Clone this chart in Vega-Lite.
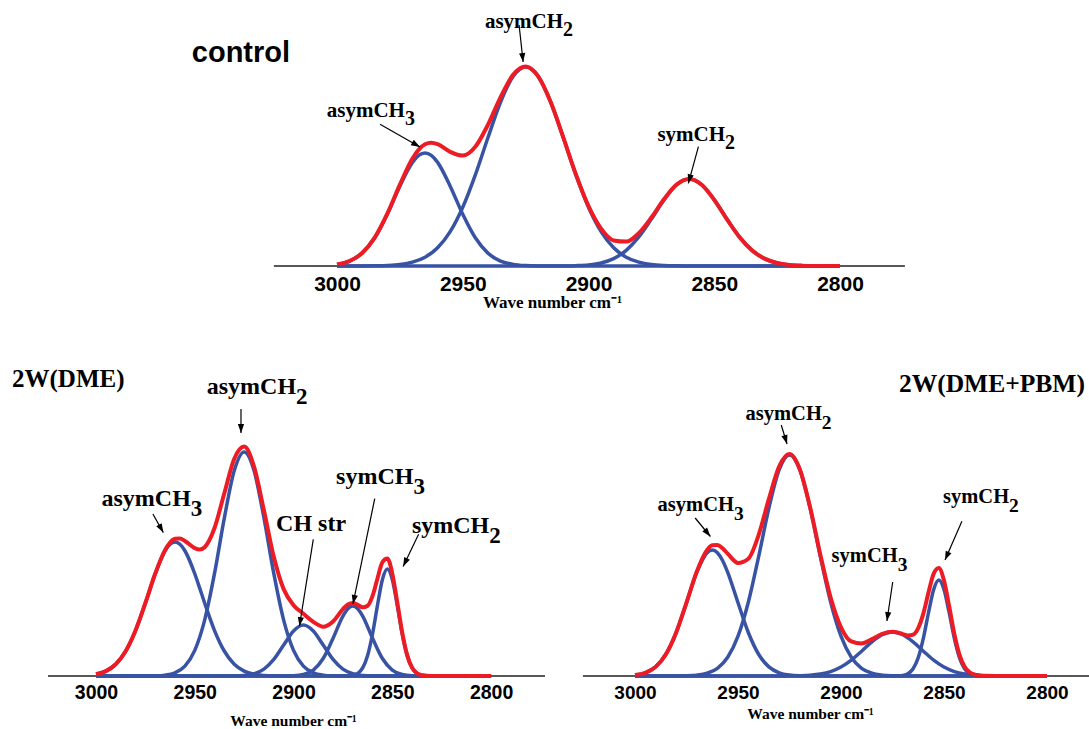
{
  "$schema": "https://vega.github.io/schema/vega-lite/v6.json",
  "padding": 0,
  "bounds": "flush",
  "spacing": 74,
  "background": "white",
  "config": {"view": {"stroke": null}},
  "datasets": {
    "ctl_base": [{"x": 3025.1, "x2": 2774.2, "y": 0}],
    "ctl_comp": [
      {"c": "asymCH3", "x": 3000, "y": 0.0161}, {"c": "asymCH3", "x": 2995, "y": 0.0497}, {"c": "asymCH3", "x": 2990, "y": 0.129}, {"c": "asymCH3", "x": 2985, "y": 0.2818}, {"c": "asymCH3", "x": 2980, "y": 0.5173}, {"c": "asymCH3", "x": 2975, "y": 0.7986}, {"c": "asymCH3", "x": 2970, "y": 1.0361}, {"c": "asymCH3", "x": 2967.5, "y": 1.1057}, {"c": "asymCH3", "x": 2965, "y": 1.13}, {"c": "asymCH3", "x": 2962.5, "y": 1.1057}, {"c": "asymCH3", "x": 2960, "y": 1.0361}, {"c": "asymCH3", "x": 2955, "y": 0.7986}, {"c": "asymCH3", "x": 2950, "y": 0.5173}, {"c": "asymCH3", "x": 2945, "y": 0.2818}, {"c": "asymCH3", "x": 2940, "y": 0.129}, {"c": "asymCH3", "x": 2935, "y": 0.0497}, {"c": "asymCH3", "x": 2930, "y": 0.0161}, {"c": "asymCH3", "x": 2925, "y": 0.0044}, {"c": "asymCH3", "x": 2920, "y": 0.001}, {"c": "asymCH3", "x": 2915, "y": 0.0002}, {"c": "asymCH3", "x": 2910, "y": 0}, {"c": "asymCH3", "x": 2800, "y": 0},
      {"c": "asymCH2", "x": 3000, "y": 0}, {"c": "asymCH2", "x": 2995, "y": 0.0001}, {"c": "asymCH2", "x": 2990, "y": 0.0005}, {"c": "asymCH2", "x": 2985, "y": 0.0018}, {"c": "asymCH2", "x": 2980, "y": 0.0054}, {"c": "asymCH2", "x": 2975, "y": 0.0151}, {"c": "asymCH2", "x": 2970, "y": 0.0381}, {"c": "asymCH2", "x": 2965, "y": 0.0874}, {"c": "asymCH2", "x": 2960, "y": 0.1819}, {"c": "asymCH2", "x": 2955, "y": 0.3431}, {"c": "asymCH2", "x": 2950, "y": 0.5871}, {"c": "asymCH2", "x": 2945, "y": 0.911}, {"c": "asymCH2", "x": 2940, "y": 1.2824}, {"c": "asymCH2", "x": 2935, "y": 1.6369}, {"c": "asymCH2", "x": 2930, "y": 1.895}, {"c": "asymCH2", "x": 2925, "y": 1.99}, {"c": "asymCH2", "x": 2920, "y": 1.895}, {"c": "asymCH2", "x": 2915, "y": 1.6369}, {"c": "asymCH2", "x": 2910, "y": 1.2824}, {"c": "asymCH2", "x": 2905, "y": 0.911}, {"c": "asymCH2", "x": 2900, "y": 0.5871}, {"c": "asymCH2", "x": 2895, "y": 0.3431}, {"c": "asymCH2", "x": 2890, "y": 0.1819}, {"c": "asymCH2", "x": 2885, "y": 0.0874}, {"c": "asymCH2", "x": 2880, "y": 0.0381}, {"c": "asymCH2", "x": 2875, "y": 0.0151}, {"c": "asymCH2", "x": 2870, "y": 0.0054}, {"c": "asymCH2", "x": 2865, "y": 0.0018}, {"c": "asymCH2", "x": 2860, "y": 0.0005}, {"c": "asymCH2", "x": 2855, "y": 0.0001}, {"c": "asymCH2", "x": 2850, "y": 0}, {"c": "asymCH2", "x": 2800, "y": 0},
      {"c": "symCH2", "x": 3000, "y": 0}, {"c": "symCH2", "x": 2920, "y": 0}, {"c": "symCH2", "x": 2915, "y": 0.0002}, {"c": "symCH2", "x": 2910, "y": 0.0009}, {"c": "symCH2", "x": 2905, "y": 0.0034}, {"c": "symCH2", "x": 2900, "y": 0.0108}, {"c": "symCH2", "x": 2895, "y": 0.0302}, {"c": "symCH2", "x": 2890, "y": 0.0737}, {"c": "symCH2", "x": 2885, "y": 0.1566}, {"c": "symCH2", "x": 2880, "y": 0.2904}, {"c": "symCH2", "x": 2875, "y": 0.4693}, {"c": "symCH2", "x": 2870, "y": 0.6613}, {"c": "symCH2", "x": 2865, "y": 0.8123}, {"c": "symCH2", "x": 2860, "y": 0.87}, {"c": "symCH2", "x": 2855, "y": 0.8123}, {"c": "symCH2", "x": 2850, "y": 0.6613}, {"c": "symCH2", "x": 2845, "y": 0.4693}, {"c": "symCH2", "x": 2840, "y": 0.2904}, {"c": "symCH2", "x": 2835, "y": 0.1566}, {"c": "symCH2", "x": 2830, "y": 0.0737}, {"c": "symCH2", "x": 2825, "y": 0.0302}, {"c": "symCH2", "x": 2820, "y": 0.0108}, {"c": "symCH2", "x": 2815, "y": 0.0034}, {"c": "symCH2", "x": 2810, "y": 0.0009}, {"c": "symCH2", "x": 2805, "y": 0.0002}, {"c": "symCH2", "x": 2800, "y": 0}
    ],
    "ctl_sum": [
      {"x": 3000, "y": 0.0161}, {"x": 2995, "y": 0.0498}, {"x": 2990, "y": 0.1295}, {"x": 2985, "y": 0.2836}, {"x": 2980, "y": 0.5227}, {"x": 2975, "y": 0.8137}, {"x": 2970, "y": 1.0742}, {"x": 2967.5, "y": 1.1642}, {"x": 2965, "y": 1.2174}, {"x": 2962.5, "y": 1.2333}, {"x": 2960, "y": 1.218}, {"x": 2955, "y": 1.1417}, {"x": 2950, "y": 1.1044}, {"x": 2945, "y": 1.1928}, {"x": 2940, "y": 1.4114}, {"x": 2935, "y": 1.6866}, {"x": 2930, "y": 1.9111}, {"x": 2925, "y": 1.9944}, {"x": 2920, "y": 1.896}, {"x": 2915, "y": 1.6373}, {"x": 2910, "y": 1.2833}, {"x": 2905, "y": 0.9144}, {"x": 2900, "y": 0.5979}, {"x": 2895, "y": 0.3733}, {"x": 2890, "y": 0.2556}, {"x": 2885, "y": 0.244}, {"x": 2880, "y": 0.3285}, {"x": 2875, "y": 0.4844}, {"x": 2870, "y": 0.6667}, {"x": 2865, "y": 0.8141}, {"x": 2860, "y": 0.8705}, {"x": 2855, "y": 0.8124}, {"x": 2850, "y": 0.6613}, {"x": 2845, "y": 0.4693}, {"x": 2840, "y": 0.2904}, {"x": 2835, "y": 0.1566}, {"x": 2830, "y": 0.0737}, {"x": 2825, "y": 0.0302}, {"x": 2820, "y": 0.0108}, {"x": 2815, "y": 0.0034}, {"x": 2810, "y": 0.0009}, {"x": 2805, "y": 0.0002}, {"x": 2800, "y": 0}
    ],
    "ctl_arr": [
      {"x": 2926.0, "y": 2.04, "xs": 2927.6, "ys": 2.41},
      {"x": 2967.0, "y": 1.19, "xs": 2982.9, "ys": 1.417},
      {"x": 2860.3, "y": 0.827, "xs": 2856.3, "ys": 1.193}
    ],
    "ctl_lab": [
      {"x": 2910.1, "y": 2.38, "m": "asymCH", "s": "2"},
      {"x": 2973.0, "y": 1.49, "m": "asymCH", "s": "3"},
      {"x": 2845.7, "y": 1.253, "m": "symCH", "s": "2"}
    ],
    "ctl_title": [{"x": 3038.2, "y": 2.13, "t": "control"}],

    "dme_base": [{"x": 3024.3, "x2": 2772.7, "y": 0}],
    "dme_comp": [
      {"c": "asymCH3", "x": 3000, "y": 0.0177}, {"c": "asymCH3", "x": 2995, "y": 0.0489}, {"c": "asymCH3", "x": 2990, "y": 0.1177}, {"c": "asymCH3", "x": 2985, "y": 0.2474}, {"c": "asymCH3", "x": 2980, "y": 0.4546}, {"c": "asymCH3", "x": 2975, "y": 0.7295}, {"c": "asymCH3", "x": 2970, "y": 1.0226}, {"c": "asymCH3", "x": 2965, "y": 1.2524}, {"c": "asymCH3", "x": 2962.5, "y": 1.3176}, {"c": "asymCH3", "x": 2960, "y": 1.34}, {"c": "asymCH3", "x": 2957.5, "y": 1.3176}, {"c": "asymCH3", "x": 2955, "y": 1.2524}, {"c": "asymCH3", "x": 2950, "y": 1.0226}, {"c": "asymCH3", "x": 2947.5, "y": 0.8785}, {"c": "asymCH3", "x": 2945, "y": 0.7295}, {"c": "asymCH3", "x": 2940, "y": 0.4546}, {"c": "asymCH3", "x": 2935, "y": 0.2474}, {"c": "asymCH3", "x": 2930, "y": 0.1177}, {"c": "asymCH3", "x": 2925, "y": 0.0489}, {"c": "asymCH3", "x": 2920, "y": 0.0177}, {"c": "asymCH3", "x": 2915, "y": 0.0056}, {"c": "asymCH3", "x": 2910, "y": 0.0016}, {"c": "asymCH3", "x": 2905, "y": 0.0004}, {"c": "asymCH3", "x": 2900, "y": 0.0001}, {"c": "asymCH3", "x": 2895, "y": 0}, {"c": "asymCH3", "x": 2800, "y": 0},
      {"c": "asymCH2", "x": 3000, "y": 0}, {"c": "asymCH2", "x": 2985, "y": 0}, {"c": "asymCH2", "x": 2980, "y": 0.0001}, {"c": "asymCH2", "x": 2975, "y": 0.0004}, {"c": "asymCH2", "x": 2970, "y": 0.002}, {"c": "asymCH2", "x": 2965, "y": 0.0086}, {"c": "asymCH2", "x": 2960, "y": 0.0318}, {"c": "asymCH2", "x": 2955, "y": 0.0984}, {"c": "asymCH2", "x": 2950, "y": 0.2558}, {"c": "asymCH2", "x": 2945, "y": 0.5587}, {"c": "asymCH2", "x": 2940, "y": 1.0255}, {"c": "asymCH2", "x": 2935, "y": 1.583}, {"c": "asymCH2", "x": 2930, "y": 2.0539}, {"c": "asymCH2", "x": 2925, "y": 2.24}, {"c": "asymCH2", "x": 2920, "y": 2.0539}, {"c": "asymCH2", "x": 2915, "y": 1.583}, {"c": "asymCH2", "x": 2910, "y": 1.0255}, {"c": "asymCH2", "x": 2905, "y": 0.5587}, {"c": "asymCH2", "x": 2900, "y": 0.2558}, {"c": "asymCH2", "x": 2895, "y": 0.0984}, {"c": "asymCH2", "x": 2890, "y": 0.0318}, {"c": "asymCH2", "x": 2885, "y": 0.0086}, {"c": "asymCH2", "x": 2880, "y": 0.002}, {"c": "asymCH2", "x": 2875, "y": 0.0004}, {"c": "asymCH2", "x": 2870, "y": 0.0001}, {"c": "asymCH2", "x": 2865, "y": 0}, {"c": "asymCH2", "x": 2800, "y": 0},
      {"c": "CHstr", "x": 3000, "y": 0}, {"c": "CHstr", "x": 2940, "y": 0}, {"c": "CHstr", "x": 2935, "y": 0.0002}, {"c": "CHstr", "x": 2930, "y": 0.0011}, {"c": "CHstr", "x": 2925, "y": 0.0057}, {"c": "CHstr", "x": 2920, "y": 0.0224}, {"c": "CHstr", "x": 2915, "y": 0.069}, {"c": "CHstr", "x": 2910, "y": 0.1656}, {"c": "CHstr", "x": 2905, "y": 0.3093}, {"c": "CHstr", "x": 2900, "y": 0.4501}, {"c": "CHstr", "x": 2895, "y": 0.51}, {"c": "CHstr", "x": 2890, "y": 0.4501}, {"c": "CHstr", "x": 2885, "y": 0.3093}, {"c": "CHstr", "x": 2880, "y": 0.1656}, {"c": "CHstr", "x": 2875, "y": 0.069}, {"c": "CHstr", "x": 2870, "y": 0.0224}, {"c": "CHstr", "x": 2865, "y": 0.0057}, {"c": "CHstr", "x": 2860, "y": 0.0011}, {"c": "CHstr", "x": 2855, "y": 0.0002}, {"c": "CHstr", "x": 2850, "y": 0}, {"c": "CHstr", "x": 2800, "y": 0},
      {"c": "symCH3", "x": 3000, "y": 0}, {"c": "symCH3", "x": 2910, "y": 0}, {"c": "symCH3", "x": 2905, "y": 0.0004}, {"c": "symCH3", "x": 2900, "y": 0.0027}, {"c": "symCH3", "x": 2895, "y": 0.0148}, {"c": "symCH3", "x": 2890, "y": 0.0593}, {"c": "symCH3", "x": 2885, "y": 0.1746}, {"c": "symCH3", "x": 2880, "y": 0.3776}, {"c": "symCH3", "x": 2875, "y": 0.5999}, {"c": "symCH3", "x": 2872.5, "y": 0.6735}, {"c": "symCH3", "x": 2870, "y": 0.7}, {"c": "symCH3", "x": 2867.5, "y": 0.6735}, {"c": "symCH3", "x": 2865, "y": 0.5999}, {"c": "symCH3", "x": 2860, "y": 0.3776}, {"c": "symCH3", "x": 2855, "y": 0.1746}, {"c": "symCH3", "x": 2850, "y": 0.0593}, {"c": "symCH3", "x": 2845, "y": 0.0148}, {"c": "symCH3", "x": 2840, "y": 0.0027}, {"c": "symCH3", "x": 2835, "y": 0.0004}, {"c": "symCH3", "x": 2830, "y": 0}, {"c": "symCH3", "x": 2800, "y": 0},
      {"c": "symCH2", "x": 3000, "y": 0}, {"c": "symCH2", "x": 2880, "y": 0}, {"c": "symCH2", "x": 2875, "y": 0.0002}, {"c": "symCH2", "x": 2872.5, "y": 0.0014}, {"c": "symCH2", "x": 2870, "y": 0.0068}, {"c": "symCH2", "x": 2867.5, "y": 0.026}, {"c": "symCH2", "x": 2865, "y": 0.0809}, {"c": "symCH2", "x": 2862.5, "y": 0.2049}, {"c": "symCH2", "x": 2860, "y": 0.4222}, {"c": "symCH2", "x": 2857.5, "y": 0.7078}, {"c": "symCH2", "x": 2855, "y": 0.965}, {"c": "symCH2", "x": 2852.5, "y": 1.07}, {"c": "symCH2", "x": 2850, "y": 0.965}, {"c": "symCH2", "x": 2847.5, "y": 0.7078}, {"c": "symCH2", "x": 2845, "y": 0.4222}, {"c": "symCH2", "x": 2842.5, "y": 0.2049}, {"c": "symCH2", "x": 2840, "y": 0.0809}, {"c": "symCH2", "x": 2837.5, "y": 0.026}, {"c": "symCH2", "x": 2835, "y": 0.0068}, {"c": "symCH2", "x": 2832.5, "y": 0.0014}, {"c": "symCH2", "x": 2830, "y": 0.0002}, {"c": "symCH2", "x": 2825, "y": 0}, {"c": "symCH2", "x": 2800, "y": 0}
    ],
    "dme_sum": [
      {"x": 3000, "y": 0.0177}, {"x": 2995, "y": 0.0489}, {"x": 2990, "y": 0.1177}, {"x": 2985, "y": 0.2474}, {"x": 2980, "y": 0.4547}, {"x": 2975, "y": 0.7299}, {"x": 2970, "y": 1.0246}, {"x": 2965, "y": 1.261}, {"x": 2962.5, "y": 1.3346}, {"x": 2960, "y": 1.3718}, {"x": 2957.5, "y": 1.3748}, {"x": 2955, "y": 1.3508}, {"x": 2950, "y": 1.2784}, {"x": 2947.5, "y": 1.2648}, {"x": 2945, "y": 1.2882}, {"x": 2940, "y": 1.4801}, {"x": 2935, "y": 1.8306}, {"x": 2930, "y": 2.1727}, {"x": 2925, "y": 2.2946}, {"x": 2920, "y": 2.094}, {"x": 2915, "y": 1.6576}, {"x": 2910, "y": 1.1927}, {"x": 2905, "y": 0.8688}, {"x": 2900, "y": 0.7087}, {"x": 2895, "y": 0.6232}, {"x": 2890, "y": 0.5412}, {"x": 2885, "y": 0.4925}, {"x": 2880, "y": 0.5452}, {"x": 2875, "y": 0.6695}, {"x": 2872.5, "y": 0.7157}, {"x": 2870, "y": 0.7293}, {"x": 2867.5, "y": 0.7111}, {"x": 2865, "y": 0.6865}, {"x": 2862.5, "y": 0.7021}, {"x": 2860, "y": 0.8009}, {"x": 2857.5, "y": 0.975}, {"x": 2855, "y": 1.1398}, {"x": 2852.5, "y": 1.1758}, {"x": 2850, "y": 1.0243}, {"x": 2847.5, "y": 0.7386}, {"x": 2845, "y": 0.437}, {"x": 2842.5, "y": 0.2115}, {"x": 2840, "y": 0.0836}, {"x": 2837.5, "y": 0.027}, {"x": 2835, "y": 0.0072}, {"x": 2832.5, "y": 0.0015}, {"x": 2830, "y": 0.0002}, {"x": 2825, "y": 0}, {"x": 2800, "y": 0}
    ],
    "dme_arr": [
      {"x": 2926.6, "y": 2.43, "xs": 2926.6, "ys": 2.67},
      {"x": 2965.9, "y": 1.434, "xs": 2971.2, "ys": 1.62},
      {"x": 2897.0, "y": 0.5, "xs": 2890.0, "ys": 1.366},
      {"x": 2869.9, "y": 0.722, "xs": 2858.9, "ys": 1.773},
      {"x": 2844.5, "y": 1.095, "xs": 2836.7, "ys": 1.417}
    ],
    "dme_lab": [
      {"x": 2898.7, "y": 2.82, "m": "asymCH", "s": "2"},
      {"x": 2952.0, "y": 1.7, "m": "asymCH", "s": "3"},
      {"x": 2873.4, "y": 1.45, "m": "CH str", "s": ""},
      {"x": 2839.3, "y": 1.925, "m": "symCH", "s": "3"},
      {"x": 2800.9, "y": 1.434, "m": "symCH", "s": "2"}
    ],
    "dme_title": [{"x": 3042.5, "y": 2.97, "t": "2W(DME)"}],

    "pbm_base": [{"x": 3025.3, "x2": 2779.6, "y": 0}],
    "pbm_comp": [
      {"c": "asymCH3", "x": 3000, "y": 0.0095}, {"c": "asymCH3", "x": 2995, "y": 0.0322}, {"c": "asymCH3", "x": 2990, "y": 0.0912}, {"c": "asymCH3", "x": 2985, "y": 0.2173}, {"c": "asymCH3", "x": 2980, "y": 0.4351}, {"c": "asymCH3", "x": 2975, "y": 0.7324}, {"c": "asymCH3", "x": 2970, "y": 1.0365}, {"c": "asymCH3", "x": 2965, "y": 1.233}, {"c": "asymCH3", "x": 2962.5, "y": 1.26}, {"c": "asymCH3", "x": 2960, "y": 1.233}, {"c": "asymCH3", "x": 2957.5, "y": 1.1553}, {"c": "asymCH3", "x": 2955, "y": 1.0365}, {"c": "asymCH3", "x": 2950, "y": 0.7324}, {"c": "asymCH3", "x": 2945, "y": 0.4351}, {"c": "asymCH3", "x": 2940, "y": 0.2173}, {"c": "asymCH3", "x": 2935, "y": 0.0912}, {"c": "asymCH3", "x": 2930, "y": 0.0322}, {"c": "asymCH3", "x": 2925, "y": 0.0095}, {"c": "asymCH3", "x": 2920, "y": 0.0024}, {"c": "asymCH3", "x": 2915, "y": 0.0005}, {"c": "asymCH3", "x": 2910, "y": 0.0001}, {"c": "asymCH3", "x": 2905, "y": 0}, {"c": "asymCH3", "x": 2800, "y": 0},
      {"c": "asymCH2", "x": 3000, "y": 0}, {"c": "asymCH2", "x": 2990, "y": 0}, {"c": "asymCH2", "x": 2985, "y": 0.0001}, {"c": "asymCH2", "x": 2980, "y": 0.0006}, {"c": "asymCH2", "x": 2975, "y": 0.0023}, {"c": "asymCH2", "x": 2970, "y": 0.0085}, {"c": "asymCH2", "x": 2965, "y": 0.0274}, {"c": "asymCH2", "x": 2960, "y": 0.0767}, {"c": "asymCH2", "x": 2955, "y": 0.1871}, {"c": "asymCH2", "x": 2950, "y": 0.3978}, {"c": "asymCH2", "x": 2945, "y": 0.7376}, {"c": "asymCH2", "x": 2940, "y": 1.1921}, {"c": "asymCH2", "x": 2935, "y": 1.6798}, {"c": "asymCH2", "x": 2930, "y": 2.0635}, {"c": "asymCH2", "x": 2925, "y": 2.21}, {"c": "asymCH2", "x": 2920, "y": 2.0635}, {"c": "asymCH2", "x": 2915, "y": 1.6798}, {"c": "asymCH2", "x": 2910, "y": 1.1921}, {"c": "asymCH2", "x": 2905, "y": 0.7376}, {"c": "asymCH2", "x": 2900, "y": 0.3978}, {"c": "asymCH2", "x": 2895, "y": 0.1871}, {"c": "asymCH2", "x": 2890, "y": 0.0767}, {"c": "asymCH2", "x": 2885, "y": 0.0274}, {"c": "asymCH2", "x": 2880, "y": 0.0085}, {"c": "asymCH2", "x": 2875, "y": 0.0023}, {"c": "asymCH2", "x": 2870, "y": 0.0006}, {"c": "asymCH2", "x": 2865, "y": 0.0001}, {"c": "asymCH2", "x": 2860, "y": 0}, {"c": "asymCH2", "x": 2800, "y": 0},
      {"c": "symCH3", "x": 3000, "y": 0}, {"c": "symCH3", "x": 2940, "y": 0}, {"c": "symCH3", "x": 2935, "y": 0.0001}, {"c": "symCH3", "x": 2930, "y": 0.0002}, {"c": "symCH3", "x": 2925, "y": 0.0007}, {"c": "symCH3", "x": 2920, "y": 0.0025}, {"c": "symCH3", "x": 2915, "y": 0.0074}, {"c": "symCH3", "x": 2910, "y": 0.0193}, {"c": "symCH3", "x": 2905, "y": 0.0443}, {"c": "symCH3", "x": 2900, "y": 0.0893}, {"c": "symCH3", "x": 2895, "y": 0.1586}, {"c": "symCH3", "x": 2890, "y": 0.2478}, {"c": "symCH3", "x": 2885, "y": 0.3409}, {"c": "symCH3", "x": 2880, "y": 0.4128}, {"c": "symCH3", "x": 2875, "y": 0.44}, {"c": "symCH3", "x": 2870, "y": 0.4128}, {"c": "symCH3", "x": 2865, "y": 0.3409}, {"c": "symCH3", "x": 2860, "y": 0.2478}, {"c": "symCH3", "x": 2855, "y": 0.1586}, {"c": "symCH3", "x": 2850, "y": 0.0893}, {"c": "symCH3", "x": 2845, "y": 0.0443}, {"c": "symCH3", "x": 2840, "y": 0.0193}, {"c": "symCH3", "x": 2835, "y": 0.0074}, {"c": "symCH3", "x": 2830, "y": 0.0025}, {"c": "symCH3", "x": 2825, "y": 0.0007}, {"c": "symCH3", "x": 2820, "y": 0.0002}, {"c": "symCH3", "x": 2815, "y": 0.0001}, {"c": "symCH3", "x": 2810, "y": 0}, {"c": "symCH3", "x": 2800, "y": 0},
      {"c": "symCH2", "x": 3000, "y": 0}, {"c": "symCH2", "x": 2880, "y": 0}, {"c": "symCH2", "x": 2875, "y": 0.0002}, {"c": "symCH2", "x": 2872.5, "y": 0.0013}, {"c": "symCH2", "x": 2870, "y": 0.0061}, {"c": "symCH2", "x": 2867.5, "y": 0.0233}, {"c": "symCH2", "x": 2865, "y": 0.0725}, {"c": "symCH2", "x": 2862.5, "y": 0.1838}, {"c": "symCH2", "x": 2860, "y": 0.3788}, {"c": "symCH2", "x": 2857.5, "y": 0.635}, {"c": "symCH2", "x": 2855, "y": 0.8658}, {"c": "symCH2", "x": 2852.5, "y": 0.96}, {"c": "symCH2", "x": 2850, "y": 0.8658}, {"c": "symCH2", "x": 2847.5, "y": 0.635}, {"c": "symCH2", "x": 2845, "y": 0.3788}, {"c": "symCH2", "x": 2842.5, "y": 0.1838}, {"c": "symCH2", "x": 2840, "y": 0.0725}, {"c": "symCH2", "x": 2837.5, "y": 0.0233}, {"c": "symCH2", "x": 2835, "y": 0.0061}, {"c": "symCH2", "x": 2832.5, "y": 0.0013}, {"c": "symCH2", "x": 2830, "y": 0.0002}, {"c": "symCH2", "x": 2825, "y": 0}, {"c": "symCH2", "x": 2800, "y": 0}
    ],
    "pbm_sum": [
      {"x": 3000, "y": 0.0095}, {"x": 2995, "y": 0.0322}, {"x": 2990, "y": 0.0912}, {"x": 2985, "y": 0.2174}, {"x": 2980, "y": 0.4357}, {"x": 2975, "y": 0.7347}, {"x": 2970, "y": 1.045}, {"x": 2965, "y": 1.2604}, {"x": 2962.5, "y": 1.3067}, {"x": 2960, "y": 1.3097}, {"x": 2957.5, "y": 1.2771}, {"x": 2955, "y": 1.2236}, {"x": 2950, "y": 1.1302}, {"x": 2945, "y": 1.1727}, {"x": 2940, "y": 1.4094}, {"x": 2935, "y": 1.7711}, {"x": 2930, "y": 2.0959}, {"x": 2925, "y": 2.2202}, {"x": 2920, "y": 2.0684}, {"x": 2915, "y": 1.6877}, {"x": 2910, "y": 1.2115}, {"x": 2905, "y": 0.7819}, {"x": 2900, "y": 0.4871}, {"x": 2895, "y": 0.3457}, {"x": 2890, "y": 0.3245}, {"x": 2885, "y": 0.3683}, {"x": 2880, "y": 0.4213}, {"x": 2875, "y": 0.4425}, {"x": 2872.5, "y": 0.4355}, {"x": 2870, "y": 0.4195}, {"x": 2867.5, "y": 0.4048}, {"x": 2865, "y": 0.4135}, {"x": 2862.5, "y": 0.4792}, {"x": 2860, "y": 0.6266}, {"x": 2857.5, "y": 0.8364}, {"x": 2855, "y": 1.0244}, {"x": 2852.5, "y": 1.0809}, {"x": 2850, "y": 0.9551}, {"x": 2847.5, "y": 0.6989}, {"x": 2845, "y": 0.4231}, {"x": 2842.5, "y": 0.2135}, {"x": 2840, "y": 0.0918}, {"x": 2837.5, "y": 0.0355}, {"x": 2835, "y": 0.0135}, {"x": 2832.5, "y": 0.0057}, {"x": 2830, "y": 0.0027}, {"x": 2825, "y": 0.0007}, {"x": 2820, "y": 0.0002}, {"x": 2815, "y": 0.0001}, {"x": 2810, "y": 0}, {"x": 2800, "y": 0}
    ],
    "pbm_arr": [
      {"x": 2926.2, "y": 2.32, "xs": 2929.0, "ys": 2.51},
      {"x": 2963.4, "y": 1.395, "xs": 2970.8, "ys": 1.58},
      {"x": 2877.7, "y": 0.55, "xs": 2874.9, "ys": 0.94},
      {"x": 2849.5, "y": 1.159, "xs": 2841.3, "ys": 1.547}
    ],
    "pbm_lab": [
      {"x": 2909.3, "y": 2.56, "m": "asymCH", "s": "2"},
      {"x": 2952.0, "y": 1.65, "m": "asymCH", "s": "3"},
      {"x": 2872.5, "y": 1.14, "m": "symCH", "s": "3"},
      {"x": 2818.4, "y": 1.73, "m": "symCH", "s": "2"}
    ],
    "pbm_title": [{"x": 2781.6, "y": 2.92, "t": "2W(DME+PBM)"}]
  },
  "vconcat": [
    {
      "width": 1089,
      "height": 266,
      "encoding": {
        "x": {"field": "x", "type": "quantitative",
          "scale": {"domain": [2701, 3134], "reverse": true, "nice": false, "zero": false},
          "axis": {"values": [3000, 2950, 2900, 2850, 2800], "format": "d", "domain": false, "ticks": false, "tickSize": 0, "grid": false,
            "labelFont": "Liberation Sans", "labelFontWeight": "bold", "labelFontSize": 21, "labelColor": "#000", "labelPadding": 18, "labelBaseline": "middle", "labelOverlap": false, "labelFlush": false,
            "title": "Wave number cm⁻¹", "titleFont": "Liberation Serif", "titleFontWeight": "bold", "titleFontSize": 17, "titleColor": "#000", "titleX": 552, "titleY": 36, "titleBaseline": "middle", "titleAlign": "center"}},
        "y": {"field": "y", "type": "quantitative", "scale": {"domain": [0, 2.66], "nice": false, "zero": false}, "axis": null}
      },
      "layer": [
        {"data": {"name": "ctl_base"}, "mark": {"type": "rule", "color": "#231f20", "strokeWidth": 1.6}, "encoding": {"x2": {"field": "x2"}}},
        {"data": {"name": "ctl_comp"}, "mark": {"type": "line", "color": "#3953a4", "strokeWidth": 3.5, "interpolate": "monotone"}, "encoding": {"detail": {"field": "c"}}},
        {"data": {"name": "ctl_sum"}, "mark": {"type": "line", "color": "#ed1c24", "strokeWidth": 4, "interpolate": "monotone"}, "encoding": {}},
        {"data": {"name": "ctl_arr"}, "mark": {"type": "rule", "color": "#000", "strokeWidth": 1.2}, "encoding": {"x2": {"field": "xs"}, "y2": {"field": "ys"}}},
        {"data": {"name": "ctl_arr"}, "transform": [{"calculate": "atan2((datum.x - datum.xs) * 2.515, (datum.ys - datum.y) * 100) * 180 / PI", "as": "ang"}],
          "mark": {"type": "point", "shape": "M0,0L-0.35,-1L0.35,-1Z", "filled": true, "color": "#000", "size": 320, "opacity": 1, "strokeWidth": 0},
          "encoding": {"angle": {"field": "ang", "type": "quantitative", "scale": null}}},
        {"data": {"name": "ctl_lab"}, "mark": {"type": "text", "align": "right", "baseline": "alphabetic", "font": "Liberation Serif", "fontWeight": "bold", "fontSize": 21, "color": "#000"}, "encoding": {"text": {"field": "m"}}},
        {"data": {"name": "ctl_lab"}, "mark": {"type": "text", "align": "left", "baseline": "alphabetic", "dy": 8, "font": "Liberation Serif", "fontWeight": "bold", "fontSize": 20, "color": "#000"}, "encoding": {"text": {"field": "s"}}},
        {"data": {"name": "ctl_title"}, "mark": {"type": "text", "align": "center", "baseline": "middle", "font": "Liberation Sans", "fontWeight": "bold", "fontSize": 29, "color": "#000"}, "encoding": {"text": {"field": "t"}}}
      ]
    },
    {
      "hconcat": [
        {
          "width": 545,
          "height": 336,
          "encoding": {
            "x": {"field": "x", "type": "quantitative",
              "scale": {"domain": [2772.7, 3048.6], "reverse": true, "nice": false, "zero": false},
              "axis": {"values": [3000, 2950, 2900, 2850, 2800], "format": "d", "domain": false, "ticks": false, "tickSize": 0, "grid": false,
                "labelFont": "Liberation Sans", "labelFontWeight": "bold", "labelFontSize": 19.5, "labelColor": "#000", "labelPadding": 16, "labelBaseline": "middle", "labelOverlap": false, "labelFlush": false,
                "title": "Wave number cm⁻¹", "titleFont": "Liberation Serif", "titleFontWeight": "bold", "titleFontSize": 15.5, "titleColor": "#000", "titleX": 293, "titleY": 44, "titleBaseline": "middle", "titleAlign": "center"}},
            "y": {"field": "y", "type": "quantitative", "scale": {"domain": [0, 3.36], "nice": false, "zero": false}, "axis": null}
          },
          "layer": [
            {"data": {"name": "dme_base"}, "mark": {"type": "rule", "color": "#231f20", "strokeWidth": 1.6}, "encoding": {"x2": {"field": "x2"}}},
            {"data": {"name": "dme_comp"}, "mark": {"type": "line", "color": "#3953a4", "strokeWidth": 3.5, "interpolate": "monotone"}, "encoding": {"detail": {"field": "c"}}},
            {"data": {"name": "dme_sum"}, "mark": {"type": "line", "color": "#ed1c24", "strokeWidth": 4, "interpolate": "monotone"}, "encoding": {}},
            {"data": {"name": "dme_arr"}, "mark": {"type": "rule", "color": "#000", "strokeWidth": 1.2}, "encoding": {"x2": {"field": "xs"}, "y2": {"field": "ys"}}},
            {"data": {"name": "dme_arr"}, "transform": [{"calculate": "atan2((datum.x - datum.xs) * 1.975, (datum.ys - datum.y) * 100) * 180 / PI", "as": "ang"}],
              "mark": {"type": "point", "shape": "M0,0L-0.35,-1L0.35,-1Z", "filled": true, "color": "#000", "size": 320, "opacity": 1, "strokeWidth": 0},
              "encoding": {"angle": {"field": "ang", "type": "quantitative", "scale": null}}},
            {"data": {"name": "dme_lab"}, "mark": {"type": "text", "align": "right", "baseline": "alphabetic", "font": "Liberation Serif", "fontWeight": "bold", "fontSize": 24, "color": "#000"}, "encoding": {"text": {"field": "m"}}},
            {"data": {"name": "dme_lab"}, "mark": {"type": "text", "align": "left", "baseline": "alphabetic", "dy": 10, "font": "Liberation Serif", "fontWeight": "bold", "fontSize": 23, "color": "#000"}, "encoding": {"text": {"field": "s"}}},
            {"data": {"name": "dme_title"}, "mark": {"type": "text", "align": "left", "baseline": "middle", "font": "Liberation Serif", "fontWeight": "bold", "fontSize": 25, "color": "#000"}, "encoding": {"text": {"field": "t"}}}
          ]
        },
        {
          "width": 544,
          "height": 336,
          "encoding": {
            "x": {"field": "x", "type": "quantitative",
              "scale": {"domain": [2779.6, 3043.7], "reverse": true, "nice": false, "zero": false},
              "axis": {"values": [3000, 2950, 2900, 2850, 2800], "format": "d", "domain": false, "ticks": false, "tickSize": 0, "grid": false,
                "labelFont": "Liberation Sans", "labelFontWeight": "bold", "labelFontSize": 19, "labelColor": "#000", "labelPadding": 16, "labelBaseline": "middle", "labelOverlap": false, "labelFlush": false,
                "title": "Wave number cm⁻¹", "titleFont": "Liberation Serif", "titleFontWeight": "bold", "titleFontSize": 15.5, "titleColor": "#000", "titleX": 265, "titleY": 37, "titleBaseline": "middle", "titleAlign": "center"}},
            "y": {"field": "y", "type": "quantitative", "scale": {"domain": [0, 3.36], "nice": false, "zero": false}, "axis": null}
          },
          "layer": [
            {"data": {"name": "pbm_base"}, "mark": {"type": "rule", "color": "#231f20", "strokeWidth": 1.6}, "encoding": {"x2": {"field": "x2"}}},
            {"data": {"name": "pbm_comp"}, "mark": {"type": "line", "color": "#3953a4", "strokeWidth": 3.5, "interpolate": "monotone"}, "encoding": {"detail": {"field": "c"}}},
            {"data": {"name": "pbm_sum"}, "mark": {"type": "line", "color": "#ed1c24", "strokeWidth": 4, "interpolate": "monotone"}, "encoding": {}},
            {"data": {"name": "pbm_arr"}, "mark": {"type": "rule", "color": "#000", "strokeWidth": 1.2}, "encoding": {"x2": {"field": "xs"}, "y2": {"field": "ys"}}},
            {"data": {"name": "pbm_arr"}, "transform": [{"calculate": "atan2((datum.x - datum.xs) * 2.06, (datum.ys - datum.y) * 100) * 180 / PI", "as": "ang"}],
              "mark": {"type": "point", "shape": "M0,0L-0.35,-1L0.35,-1Z", "filled": true, "color": "#000", "size": 320, "opacity": 1, "strokeWidth": 0},
              "encoding": {"angle": {"field": "ang", "type": "quantitative", "scale": null}}},
            {"data": {"name": "pbm_lab"}, "mark": {"type": "text", "align": "right", "baseline": "alphabetic", "font": "Liberation Serif", "fontWeight": "bold", "fontSize": 20.5, "color": "#000"}, "encoding": {"text": {"field": "m"}}},
            {"data": {"name": "pbm_lab"}, "mark": {"type": "text", "align": "left", "baseline": "alphabetic", "dy": 8.5, "font": "Liberation Serif", "fontWeight": "bold", "fontSize": 19.5, "color": "#000"}, "encoding": {"text": {"field": "s"}}},
            {"data": {"name": "pbm_title"}, "mark": {"type": "text", "align": "right", "baseline": "middle", "font": "Liberation Serif", "fontWeight": "bold", "fontSize": 25.5, "color": "#000"}, "encoding": {"text": {"field": "t"}}}
          ]
        }
      ],
      "spacing": 0,
      "bounds": "flush"
    }
  ]
}
